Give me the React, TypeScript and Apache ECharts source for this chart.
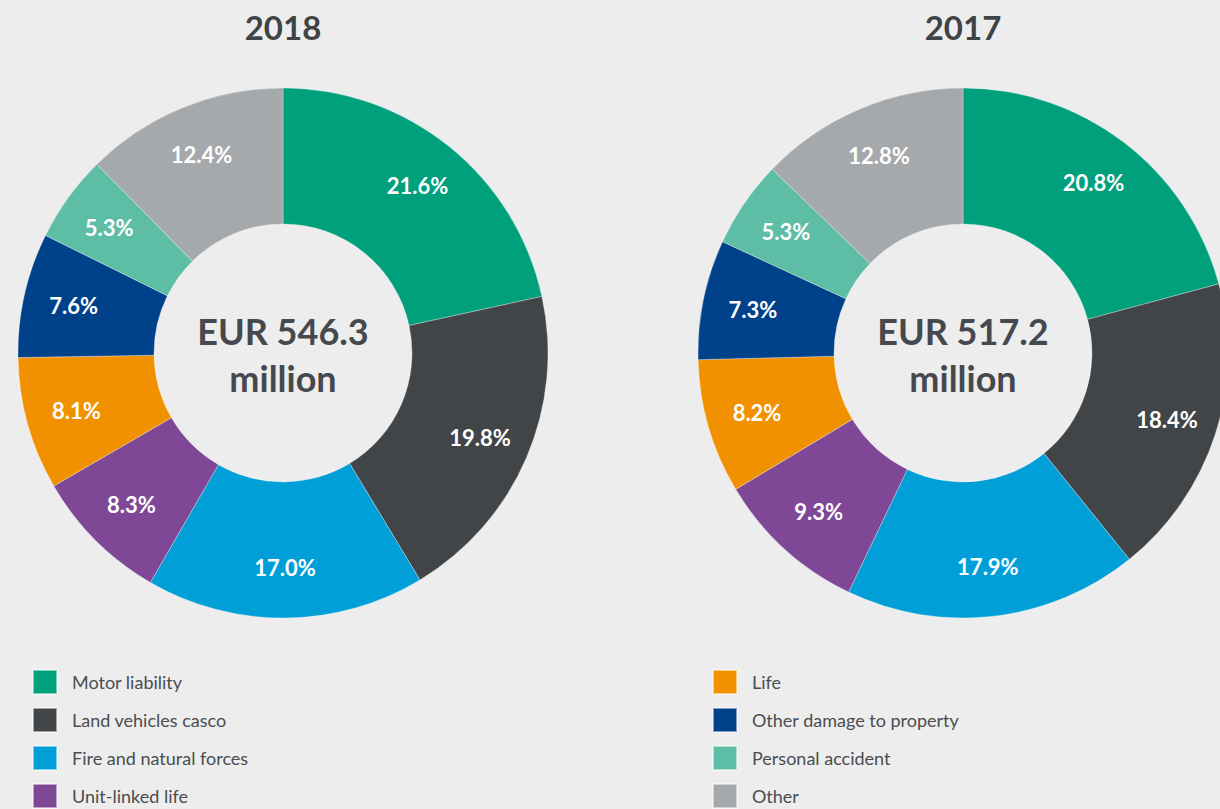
import React, { useEffect, useRef } from "react";
import * as echarts from "echarts";

const categories = [
  "Motor liability",
  "Land vehicles casco",
  "Fire and natural forces",
  "Unit-linked life",
  "Life",
  "Other damage to property",
  "Personal accident",
  "Other",
];
const values2018 = [21.6, 19.8, 17.0, 8.3, 8.1, 7.6, 5.3, 12.4];
const values2017 = [20.8, 18.4, 17.9, 9.3, 8.2, 7.3, 5.3, 12.8];
const years = ["2018", "2017"];
const totals = ["EUR 546.3", "EUR 517.2"];
const colors = ["#00a07d", "#424548", "#009fd8", "#7f4896", "#f29100", "#00428a", "#5ebda5", "#a6a9ac"];

const FONT = "Lato, 'Noto Sans', sans-serif";

export default function App() {
  const ref = useRef<HTMLDivElement>(null);
  useEffect(() => {
    if (!ref.current) return;
    const chart = echarts.init(ref.current, undefined, { renderer: "svg" });
    const centers = [283, 963];
    const cy = 353;
    const allValues = [values2018, values2017];
    const series: any[] = [];
    allValues.forEach((vals, i) => {
      const data = categories.map((name, j) => ({ name, value: vals[j], itemStyle: { color: colors[j] } }));
      series.push({
        type: "pie",
        center: [centers[i], cy],
        radius: [129, 265],
        startAngle: 90,
        clockwise: true,
        silent: true,
        label: { show: false },
        labelLine: { show: false },
        itemStyle: { borderColor: "rgba(255,255,255,0.5)", borderWidth: 0.6 },
        data,
      });
    });
    allValues.forEach((vals, i) => {
      const data = categories.map((name, j) => ({ name, value: vals[j] }));
      series.push({
        type: "pie",
        center: [centers[i], cy],
        radius: [158, 265],
        startAngle: 90,
        clockwise: true,
        silent: true,
        itemStyle: { color: "rgba(0,0,0,0)" },
        label: {
          show: true,
          position: "inside",
          color: "#ffffff",
          fontFamily: FONT,
          fontWeight: "bold",
          fontSize: 22,
          formatter: (p: any) => p.value.toFixed(1) + "%",
        },
        labelLine: { show: false },
        data,
      });
    });
    const graphics: any[] = [];
    years.forEach((y, i) => {
      graphics.push({
        type: "text",
        x: centers[i],
        y: 27,
        style: { text: y, fill: "#404346", font: `bold 33px ${FONT}`, textAlign: "center", textVerticalAlign: "middle" },
      });
      graphics.push({
        type: "text",
        x: centers[i],
        y: 331,
        style: { text: totals[i], fill: "#45484c", font: `bold 36px ${FONT}`, textAlign: "center", textVerticalAlign: "middle" },
      });
      graphics.push({
        type: "text",
        x: centers[i],
        y: 378,
        style: { text: "million", fill: "#45484c", font: `bold 36px ${FONT}`, textAlign: "center", textVerticalAlign: "middle" },
      });
    });
    const legendBase = {
      orient: "vertical",
      top: 669,
      height: 200,
      itemWidth: 24,
      itemHeight: 24,
      itemGap: 12,
      padding: 0,
      icon: "rect",
      selectedMode: false,
      textStyle: { fontFamily: FONT, fontSize: 18, lineHeight: 22, color: "#4a4d50", padding: [0, 0, 0, 10] },
    };
    chart.setOption({
      backgroundColor: "#ededed",
      animation: false,
      legend: [
        { ...legendBase, left: 32, data: categories.slice(0, 4) },
        { ...legendBase, left: 712, data: categories.slice(4) },
      ],
      graphic: graphics,
      series,
    });
    return () => chart.dispose();
  }, []);
  return <div ref={ref} style={{ position: "absolute", left: 0, top: 0, width: 1220, height: 809 }} />;
}
